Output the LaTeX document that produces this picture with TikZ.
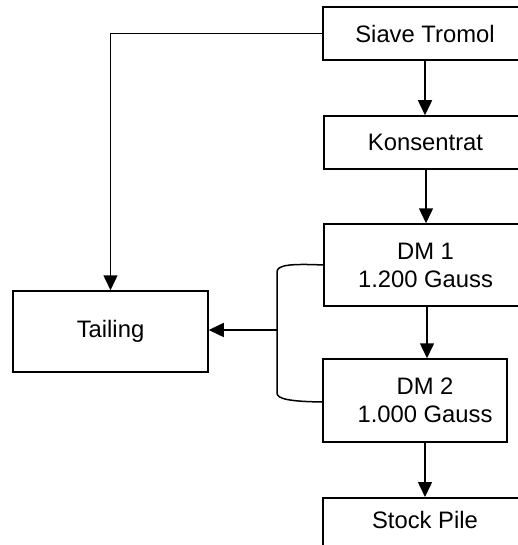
\documentclass[tikz,border=0pt]{standalone}
\usepackage{fontspec}
\setmainfont{Liberation Sans}
\usetikzlibrary{arrows.meta}
\begin{document}
\begin{tikzpicture}[x=1pt,y=-1pt,
  box/.style={draw, line width=1.5pt, inner sep=0pt, align=center,
    font=\fontsize{23.8}{28}\selectfont},
  lbl/.style={inner sep=0pt, align=center, font=\fontsize{23.8}{28}\selectfont},
  conn/.style={line width=1.5pt},
  arr/.style={line width=1.5pt, -{Triangle[width=14pt,length=15pt]}}]
\useasboundingbox (0,0) rectangle (518,545);
\node[box, minimum width=204pt, minimum height=53pt] (siave) at (425,33.5) {Siave Tromol};
\node[box, minimum width=203pt, minimum height=53pt] (kons) at (425.5,142.5) {Konsentrat};
\node[box, minimum width=203pt, minimum height=82pt] (dm1) at (425.5,265) {DM 1\\1.200 Gauss};
\node[box, minimum width=184pt, minimum height=83pt] (dm2) at (415,400.5) {};
\node[lbl] (dm2t) at (425,400.5) {DM 2\\1.000 Gauss};
\node[box, minimum width=204pt, minimum height=60pt, anchor=north] (stock) at (425,497) {};
\node[lbl] (stockt) at (425,520) {Stock Pile};
\node[box, minimum width=195pt, minimum height=81pt] (tail) at (110.5,331.5) {Tailing};
\draw[arr] (siave.south -| 425,0) -- (kons.north -| 425,0);
\draw[arr] (kons.south -| 426,0) -- (dm1.north -| 426,0);
\draw[arr] (dm1.south -| 427,0) -- (dm2.north -| 427,0);
\draw[arr] (dm2.south -| 425,0) -- (stock.north -| 425,0);
\draw[arr] (siave.west) -| (tail.north);
\coordinate (brk) at (277,330);
\draw[conn] (dm1.west) .. controls (290,263.5) and (277,265) .. (277,272) -- (277,393)
  .. controls (277,399) and (290,401.5) .. (dm2.west |- 0,402);
\draw[arr] (brk) -- (brk -| tail.east);
\end{tikzpicture}
\end{document}
